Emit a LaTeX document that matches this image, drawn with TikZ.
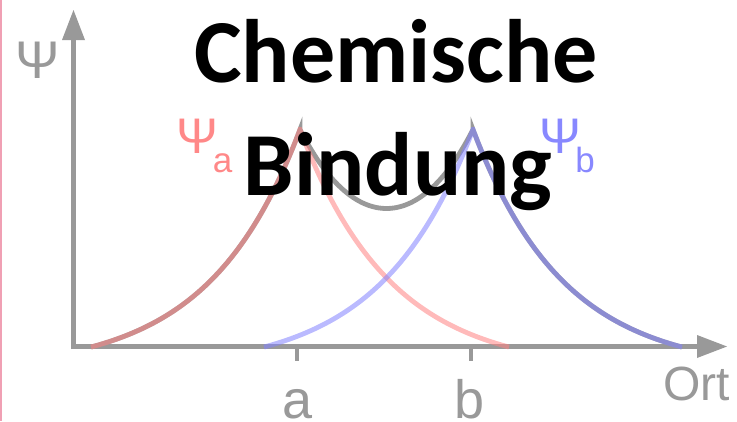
\documentclass[tikz,border=0pt]{standalone}
\usepackage{fontspec}
\setmainfont{Liberation Sans}
\newfontfamily\titlefont{Carlito}
\definecolor{axisgray}{RGB}{153,153,153}
\definecolor{psired}{RGB}{255,130,130}
\definecolor{psiblue}{RGB}{130,130,255}
\definecolor{labred}{RGB}{255,136,136}
\definecolor{labblue}{RGB}{136,136,255}
\definecolor{edgepink}{RGB}{240,160,180}
\tikzset{
  axisline/.style={draw=axisgray,line width=5pt},
  arrowhead/.style={fill=axisgray,draw=none},
  tickline/.style={draw=axisgray,line width=4.5pt},
  sumcurve/.style={draw=axisgray,line width=4.8pt},
  redcurve/.style={draw=psired,line width=4.8pt,opacity=0.55},
  bluecurve/.style={draw=psiblue,line width=4.8pt,opacity=0.55},
  axlabel/.style={text=axisgray,inner sep=0pt,anchor=base},
  title/.style={text=black,inner sep=0pt,anchor=base,font=\titlefont\bfseries\fontsize{90}{110}\selectfont}
}
\begin{document}
\begin{tikzpicture}[x=1pt,y=-1pt]
\useasboundingbox (0,0) rectangle (737,421);
\fill[white] (0,0) rectangle (737,421);
\fill[edgepink] (0,0) rectangle (1.6,421);
% axes
\coordinate (origin) at (73.5,346.5);
\coordinate (ytop) at (73.5,40);
\coordinate (xend) at (697,346.5);
\draw[axisline] (73.5,349) -- (ytop);
\draw[axisline] (71,346.5) -- (xend);
\fill[arrowhead] (73.5,10) -- (85,40) -- (62,40) -- cycle;
\fill[arrowhead] (727,346.5) -- (697,335) -- (697,358) -- cycle;
% ticks
\coordinate (ta0) at (297,346.5);
\coordinate (ta1) at (297,361);
\coordinate (tb0) at (471,346.5);
\coordinate (tb1) at (471,361);
\draw[tickline] (ta0) -- (ta1);
\draw[tickline] (tb0) -- (tb1);
% sum curve
\draw[sumcurve] plot[domain=91:300,samples=120] (\x,{346.5-(242*exp(-(300-\x)/91.2)-25)})
  -- plot[domain=300:473,samples=120] (\x,{346.5-(163.0*cosh((\x-386.5)/91.2)-25)})
  -- plot[domain=473:682,samples=120] (\x,{346.5-(242*exp(-(\x-473)/91.2)-25)});
% psi a
\draw[redcurve] plot[domain=91:300,samples=120] (\x,{346.5-(242*exp(-(300-\x)/91.2)-25)})
  -- plot[domain=300:509,samples=120] (\x,{346.5-(242*exp(-(\x-300)/91.2)-25)});
% psi b
\draw[bluecurve] plot[domain=264:473,samples=120] (\x,{346.5-(242*exp(-(473-\x)/91.2)-25)})
  -- plot[domain=473:682,samples=120] (\x,{346.5-(242*exp(-(\x-473)/91.2)-25)});
% labels
\node[axlabel,font=\fontsize{53}{60}\selectfont] (psiaxis) at (38,78) {Ψ};
\node[axlabel,text=labred,font=\fontsize{50}{58}\selectfont] (psia) at (197.5,153) {Ψ};
\node[axlabel,text=labred,font=\fontsize{35}{40}\selectfont] (suba) at (222.5,172) {a};
\node[axlabel,text=labblue,font=\fontsize{50}{58}\selectfont] (psib) at (560,153) {Ψ};
\node[axlabel,text=labblue,font=\fontsize{35}{40}\selectfont] (subb) at (585,172) {b};
\node[axlabel,font=\fontsize{54}{60}\selectfont] (laba) at (298,418) {a};
\node[axlabel,font=\fontsize{54}{60}\selectfont] (labb) at (470,418) {b};
\node[axlabel,font=\fontsize{48}{56}\selectfont] (ort) at (696.5,400) {Ort};
% title
\node[title] (t1) at (396,82) {Chemische};
\node[title] (t2) at (398,195) {Bindung};
\end{tikzpicture}
\end{document}
